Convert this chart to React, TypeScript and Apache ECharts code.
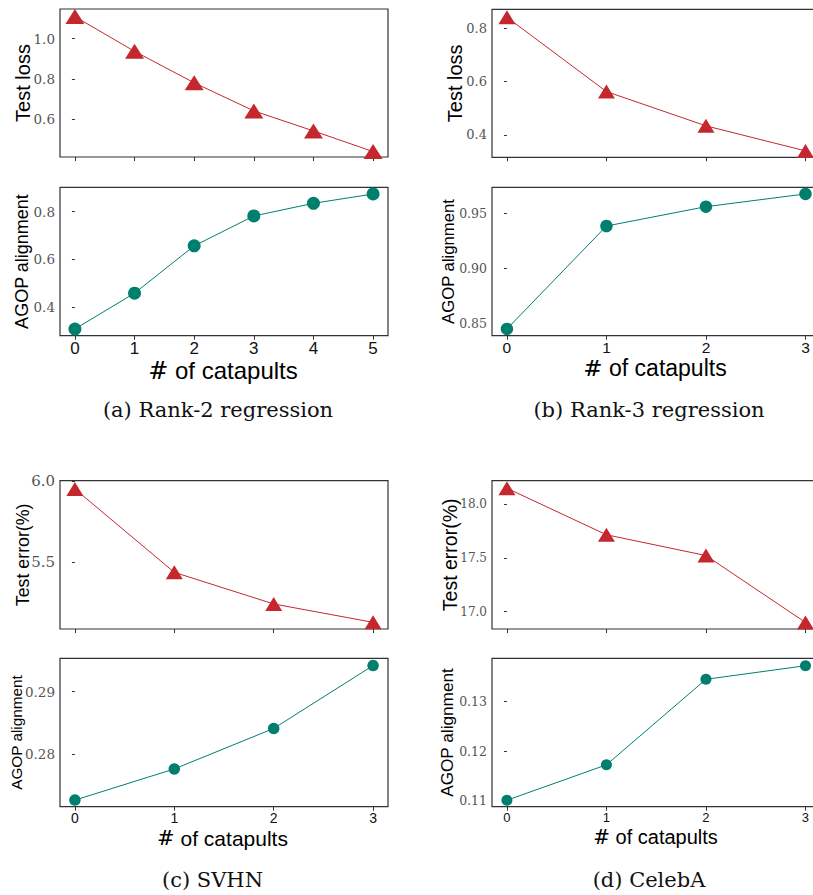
import React, { useEffect, useRef } from "react";
import * as echarts from "echarts";

// ---- data ----
const catapultsA = [0, 1, 2, 3, 4, 5];
const catapultsB = [0, 1, 2, 3];
const catapultsC = [0, 1, 2, 3];
const catapultsD = [0, 1, 2, 3];

const lossA = [1.11, 0.937, 0.78, 0.64, 0.54, 0.437];
const agopA = [0.309, 0.459, 0.657, 0.782, 0.835, 0.874];
const lossB = [0.841, 0.5625, 0.434, 0.34];
const agopB = [0.8455, 0.9385, 0.956, 0.9675];
const errC = [5.951, 5.4385, 5.244, 5.131];
const agopC = [0.2726, 0.2776, 0.2841, 0.2942];
const errD = [18.146, 17.714, 17.521, 16.9];
const agopD = [0.1101, 0.11725, 0.13453, 0.13727];

const yTicksLossA = [0.6, 0.8, 1.0];
const yTicksAgopA = [0.4, 0.6, 0.8];
const yTicksLossB = [0.4, 0.6, 0.8];
const yTicksAgopB = [0.85, 0.9, 0.95];
const yTicksErrC = [5.5, 6.0];
const yTicksAgopC = [0.28, 0.29];
const yTicksErrD = [17.0, 17.5, 18.0];
const yTicksAgopD = [0.11, 0.12, 0.13];

const captions = ["(a) Rank-2 regression", "(b) Rank-3 regression", "(c) SVHN", "(d) CelebA"];

const RED = "#c4282e";
const TEAL = "#007f6e";
const SANS = "'Liberation Sans', Arial, sans-serif";
const SERIF = "'DejaVu Serif', serif";

type Panel = {
  grid: { left: number; top: number; width: number; height: number };
  xs: number[];
  ys: number[];
  xMin: number;
  xMax: number;
  yMin: number;
  yMax: number;
  yTicks: number[];
  dec: number;
  yFont: number;
  xFont: number;
  bottom: boolean;
  kind: "tri" | "circ";
  size: number | number[];
  yTitle: string;
  yTitleX: number;
  yTitleSize: number;
};

const panels: Panel[] = [
  { grid: { left: 60, top: 9, width: 328, height: 148 }, xs: catapultsA, ys: lossA, xMin: -0.25, xMax: 5.25, yMin: 0.41, yMax: 1.148, yTicks: yTicksLossA, dec: 1, yFont: 13.5, xFont: 17, bottom: false, kind: "tri", size: [19, 15], yTitle: "Test loss", yTitleX: 23, yTitleSize: 20 },
  { grid: { left: 60, top: 187.3, width: 328, height: 148.4 }, xs: catapultsA, ys: agopA, xMin: -0.25, xMax: 5.25, yMin: 0.281, yMax: 0.902, yTicks: yTicksAgopA, dec: 1, yFont: 13.5, xFont: 17, bottom: true, kind: "circ", size: 13, yTitle: "AGOP alignment", yTitleX: 22, yTitleSize: 18 },
  { grid: { left: 492, top: 9.3, width: 328.4, height: 148 }, xs: catapultsB, ys: lossB, xMin: -0.15, xMax: 3.15, yMin: 0.316, yMax: 0.871, yTicks: yTicksLossB, dec: 1, yFont: 13, xFont: 15.5, bottom: false, kind: "tri", size: [17, 14], yTitle: "Test loss", yTitleX: 455, yTitleSize: 20 },
  { grid: { left: 492, top: 187.3, width: 328.4, height: 148.4 }, xs: catapultsB, ys: agopB, xMin: -0.15, xMax: 3.15, yMin: 0.8394, yMax: 0.9735, yTicks: yTicksAgopB, dec: 2, yFont: 12.5, xFont: 15.5, bottom: true, kind: "circ", size: 12.5, yTitle: "AGOP alignment", yTitleX: 448, yTitleSize: 16.7 },
  { grid: { left: 60, top: 480.7, width: 328, height: 148.3 }, xs: catapultsC, ys: errC, xMin: -0.15, xMax: 3.15, yMin: 5.09, yMax: 6.002, yTicks: yTicksErrC, dec: 1, yFont: 15, xFont: 14, bottom: false, kind: "tri", size: [17, 14], yTitle: "Test error(%)", yTitleX: 23, yTitleSize: 17.8 },
  { grid: { left: 60, top: 658.3, width: 328, height: 148.4 }, xs: catapultsC, ys: agopC, xMin: -0.15, xMax: 3.15, yMin: 0.27154, yMax: 0.29536, yTicks: yTicksAgopC, dec: 2, yFont: 13.5, xFont: 14, bottom: true, kind: "circ", size: 11.5, yTitle: "AGOP alignment", yTitleX: 16, yTitleSize: 15.3 },
  { grid: { left: 492, top: 480.7, width: 328.4, height: 148.3 }, xs: catapultsD, ys: errD, xMin: -0.15, xMax: 3.15, yMin: 16.839, yMax: 18.216, yTicks: yTicksErrD, dec: 1, yFont: 12, xFont: 13, bottom: false, kind: "tri", size: [17, 14], yTitle: "Test error(%)", yTitleX: 450, yTitleSize: 19.5 },
  { grid: { left: 492, top: 658.3, width: 328.4, height: 148.4 }, xs: catapultsD, ys: agopD, xMin: -0.15, xMax: 3.15, yMin: 0.10879, yMax: 0.13877, yTicks: yTicksAgopD, dec: 2, yFont: 12.5, xFont: 13, bottom: true, kind: "circ", size: 11, yTitle: "AGOP alignment", yTitleX: 447, yTitleSize: 17.2 },
];

const xTitlePos = [
  { x: 223, y: 370.5, size: 24 },
  { x: 655, y: 368, size: 23 },
  { x: 222.5, y: 838, size: 21 },
  { x: 655.5, y: 836.5, size: 20 },
];
const captionPos = [
  { x: 218, y: 410 },
  { x: 649, y: 410 },
  { x: 212.5, y: 880 },
  { x: 649, y: 880 },
];

function buildOption() {
  const grid: any[] = [];
  const xAxis: any[] = [];
  const yAxis: any[] = [];
  const series: any[] = [];
  const graphic: any[] = [];

  panels.forEach((p, i) => {
    grid.push({
      ...p.grid,
      show: true,
      borderColor: "#333",
      borderWidth: 1.2,
      backgroundColor: "transparent",
      containLabel: false,
    });
    xAxis.push({
      type: "value",
      gridIndex: i,
      min: p.xMin,
      max: p.xMax,
      axisLine: { show: false },
      splitLine: { show: false },
      axisTick: { show: true, length: 4, lineStyle: { color: "#333", width: 1 }, customValues: p.xs },
      axisLabel: {
        show: p.bottom,
        customValues: p.xs,
        fontFamily: SANS,
        fontSize: p.xFont,
        color: "#111",
        margin: 4,
        formatter: (v: number) => String(Math.round(v)),
      },
    });
    yAxis.push({
      type: "value",
      gridIndex: i,
      min: p.yMin,
      max: p.yMax,
      axisLine: { show: false },
      splitLine: { show: false },
      axisTick: { show: true, length: 3, lineStyle: { color: "#333", width: 1 }, customValues: p.yTicks },
      axisLabel: {
        show: true,
        customValues: p.yTicks,
        fontFamily: SERIF,
        fontSize: p.yFont,
        color: "#555",
        margin: 5,
        formatter: (v: number) => v.toFixed(p.dec),
      },
    });
    const color = p.kind === "tri" ? RED : TEAL;
    series.push({
      type: "line",
      xAxisIndex: i,
      yAxisIndex: i,
      data: p.xs.map((x, k) => [x, p.ys[k]]),
      symbol: p.kind === "tri" ? "triangle" : "circle",
      symbolSize: p.size,
      showAllSymbol: true,
      lineStyle: { color, width: 1 },
      itemStyle: { color, borderWidth: 0 },
      clip: false,
      z: 3,
    });
    graphic.push({
      type: "text",
      x: p.yTitleX,
      y: p.grid.top + p.grid.height / 2,
      rotation: Math.PI / 2,
      style: {
        text: p.yTitle,
        fontFamily: SANS,
        fontSize: p.yTitleSize,
        fill: "#000",
        align: "center",
        verticalAlign: "middle",
        textAlign: "center",
        textVerticalAlign: "middle",
      },
    });
  });

  xTitlePos.forEach((t) => {
    graphic.push({
      type: "text",
      x: t.x,
      y: t.y,
      style: {
        text: "{h|#}{s| of catapults}",
        rich: {
          h: { fontFamily: SERIF, fontSize: t.size, fill: "#000", color: "#000" },
          s: { fontFamily: SANS, fontSize: t.size, fill: "#000", color: "#000" },
        },
        fontFamily: SANS,
        fontSize: t.size,
        fill: "#000",
        align: "center",
        verticalAlign: "middle",
        textAlign: "center",
        textVerticalAlign: "middle",
      },
    });
  });

  captions.forEach((c, i) => {
    graphic.push({
      type: "text",
      x: captionPos[i].x,
      y: captionPos[i].y,
      style: {
        text: c,
        fontFamily: SERIF,
        fontSize: 21,
        fill: "#111",
        align: "center",
        verticalAlign: "middle",
        textAlign: "center",
        textVerticalAlign: "middle",
      },
    });
  });

  return {
    animation: false,
    backgroundColor: "#ffffff",
    grid,
    xAxis,
    yAxis,
    series,
    graphic,
  };
}

export default function App() {
  const ref = useRef<HTMLDivElement>(null);
  useEffect(() => {
    if (!ref.current) return;
    const chart = echarts.init(ref.current, undefined, { renderer: "svg" });
    chart.setOption(buildOption() as any);
    return () => chart.dispose();
  }, []);
  return (
    <div
      ref={ref}
      style={{ position: "fixed", left: 0, top: 0, width: 840, height: 895, background: "#fff" }}
    />
  );
}
